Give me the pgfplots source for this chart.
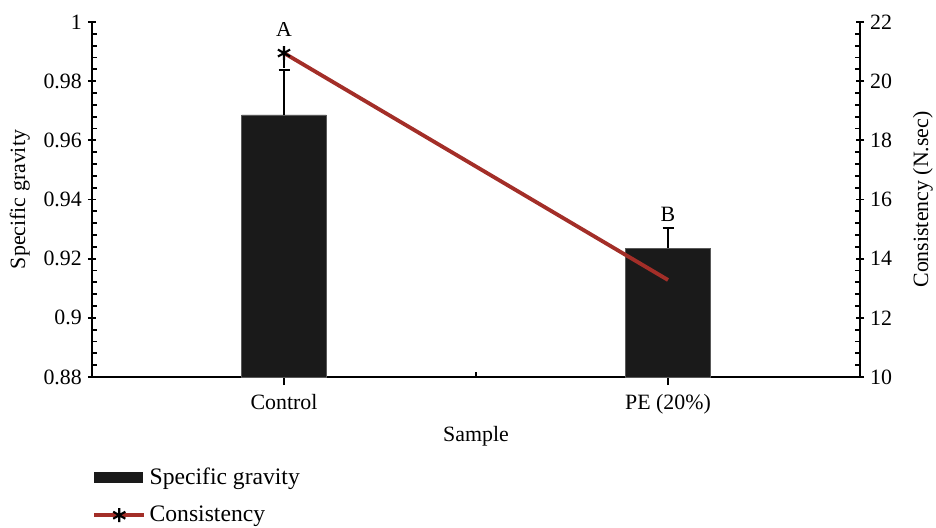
\documentclass[border=0pt]{standalone}
\usepackage{pgfplots}
\pgfplotsset{compat=1.18}
\usepackage{fontspec}
\setmainfont{Liberation Serif}
\usetikzlibrary{calc}
\newlength\px \setlength\px{0.0201cm}
\definecolor{barblack}{RGB}{26,26,26}
\definecolor{consred}{RGB}{163,46,40}
\begin{document}
\begin{tikzpicture}[font=\fontsize{12.5}{15}\selectfont]
\pgfplotsset{
 common/.style={
  scale only axis, width=768\px, height=355\px,
  xmin=0, xmax=2,
  axis line style={line width=1.1pt, black},
  tick align=inside,
  major tick length=8\px, minor tick length=5\px,
  every tick/.style={black, line width=1pt},
  /pgf/number format/assume math mode=true,
 }
}
\begin{axis}[common, name=main,
  axis y line*=left, axis x line*=bottom,
  ymin=0.88, ymax=1,
  ytick={0.88,0.9,0.92,0.94,0.96,0.98,1},
  minor y tick num=4,
  major y tick style={xshift=-4\px},
  yticklabel style={xshift=-4\px},
  xtick={0.5,1.5}, xticklabels={Control, PE (20\%)},
  major x tick style={yshift=-8\px},
  minor xtick={1},
  xticklabel style={yshift=-11\px},
  xlabel={Sample},
  xlabel style={at={(axis description cs:0.5,-0.166)}, anchor=center},
  ylabel={Specific gravity},
  ylabel style={at={(axis description cs:-0.094,0.5)}, anchor=center},
  legend style={at={(axis description cs:0,-0.245)}, anchor=north west, draw=none, fill=none,
    inner sep=0pt, row sep=12\px, font=\fontsize{13.5}{16}\selectfont, cells={anchor=west}},
]
\addplot[ybar, bar width=0.221, fill=barblack, draw=black!65,
  legend image code/.code={\fill[barblack] (0,-5\px) rectangle (48\px,5\px);},
  error bars/.cd, y dir=plus, y explicit,
  error bar style={black, line width=1pt},
  error mark options={rotate=90, black, mark size=5.5\px, line width=1pt}]
  coordinates {(0.5,0.9686) +- (0,0.0152) (1.5,0.9236) +- (0,0.0068)};
\addlegendentry{Specific gravity}
\addlegendimage{consred, line width=2.2pt, mark=asterisk, mark size=7\px,
  mark options={black, line width=1.2pt, solid},
  legend image code/.code={\draw[mark repeat=2,mark phase=2] plot coordinates {(0cm,0cm) (25\px,0cm) (50\px,0cm)};}}
\addlegendentry{Consistency}
\node[anchor=center] at (axis cs:0.5,0.9976) {A};
\node[anchor=center] at (axis cs:1.5,0.9349) {B};
\end{axis}
\begin{axis}[common,
  axis y line*=right, axis x line=none,
  ymin=10, ymax=22,
  ytick={10,12,14,16,18,20,22},
  minor y tick num=4,
  major y tick style={xshift=4\px},
  yticklabel style={xshift=4\px},
  ylabel={Consistency (N.sec)},
  ylabel style={at={(axis description cs:1.082,0.5)}, anchor=center, inner sep=0pt},
]
\addplot[consred, line width=2.2pt, mark=asterisk, mark size=7\px, mark indices={1},
  mark options={black, line width=1.2pt, solid},
  error bars/.cd, y dir=minus, y explicit, error mark=none,
  error bar style={black, line width=1pt}]
  coordinates {(0.5,20.95) -= (0,0.5) (1.5,13.28) -= (0,0)};
\end{axis}
\path ($(main.south west)+(-92\px,-145\px)$) rectangle ($(main.north east)+(76\px,22\px)$);
\end{tikzpicture}
\end{document}
